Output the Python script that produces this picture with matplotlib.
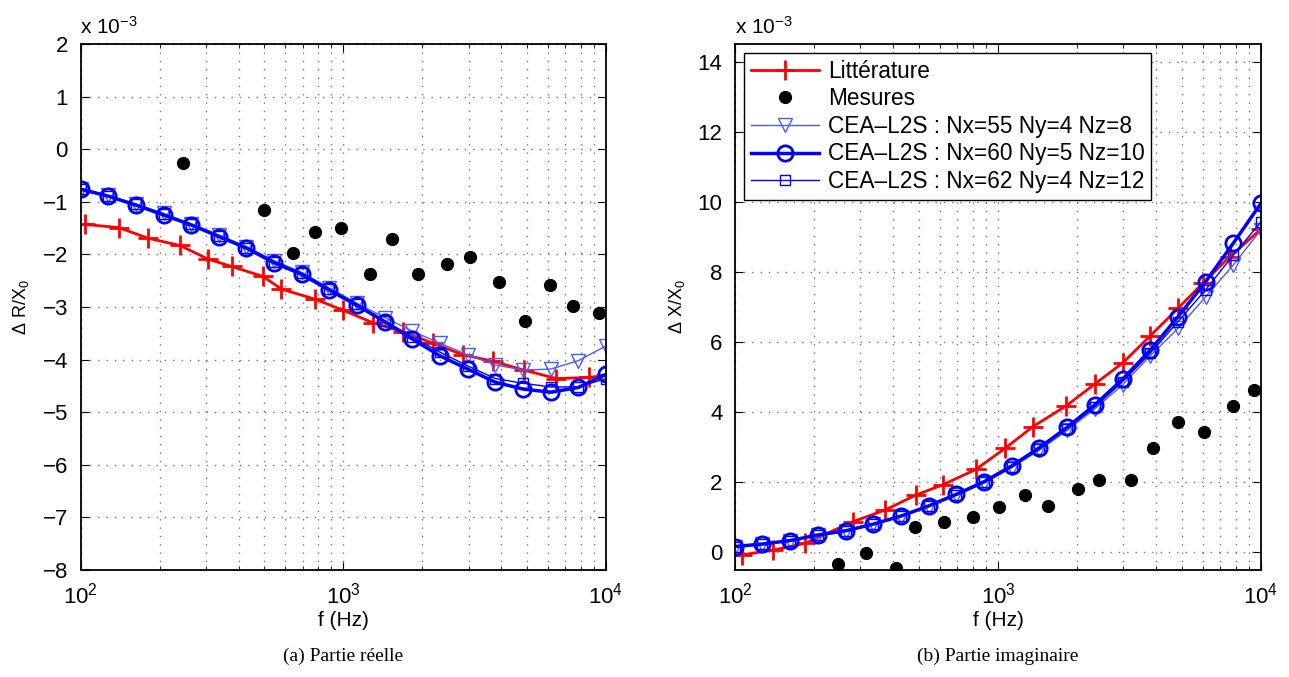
import matplotlib.pyplot as plt
import numpy as np

plt.rcParams['font.family'] = ['Liberation Sans', 'DejaVu Sans']
plt.rcParams['mathtext.fontset'] = 'custom'
plt.rcParams['mathtext.rm'] = 'Liberation Sans'
plt.rcParams['mathtext.it'] = 'Liberation Sans:italic'

# frequencies of the simulations (20 points, 100 Hz .. 10 kHz)
f_sim = [100, 127, 162, 207, 264, 336, 428, 546, 695, 886,
         1129, 1438, 1833, 2336, 2976, 3793, 4833, 6158, 7848, 10000]

# ---- (a) real part, values x 1e-3
f_lit_r = [104, 140, 180, 239, 306, 376, 496, 582, 779, 998,
           1297, 1687, 2195, 2856, 3714, 4870, 6477, 8601, 10000]
lit_r = [-1.43, -1.49, -1.69, -1.83, -2.09, -2.23, -2.42, -2.66, -2.85, -3.06,
         -3.30, -3.47, -3.69, -3.91, -4.03, -4.20, -4.36, -4.34, -4.30]
f_mes_r = [246, 499, 641, 784, 984, 1268, 1538, 1924, 2482, 3028,
           3908, 4898, 6138, 7474, 9370]
mes_r = [-0.27, -1.16, -1.98, -1.57, -1.49, -2.38, -1.71, -2.38, -2.18, -2.04,
         -2.52, -3.26, -2.58, -2.99, -3.12]
n55_r = [-0.75, -0.88, -1.04, -1.22, -1.42, -1.63, -1.85, -2.12, -2.34, -2.64,
         -2.93, -3.20, -3.46, -3.69, -3.91, -4.10, -4.20, -4.18, -4.02, -3.74]
n60_r = [-0.76, -0.89, -1.06, -1.25, -1.44, -1.66, -1.88, -2.16, -2.38, -2.68,
         -2.97, -3.28, -3.61, -3.93, -4.18, -4.43, -4.56, -4.62, -4.53, -4.28]
n62_r = [-0.76, -0.89, -1.05, -1.24, -1.43, -1.65, -1.87, -2.14, -2.36, -2.66,
         -2.95, -3.26, -3.57, -3.86, -4.12, -4.36, -4.45, -4.52, -4.52, -4.36]

# ---- (b) imaginary part, values x 1e-3
f_lit_i = [106, 140, 185, 281, 372, 488, 617, 824, 1064, 1358,
           1816, 2339, 2985, 3784, 4831, 6012, 7621, 10000]
lit_i = [-0.07, 0.07, 0.26, 0.88, 1.21, 1.64, 1.93, 2.37, 2.97, 3.59,
         4.18, 4.81, 5.41, 6.17, 6.96, 7.68, 8.44, 9.22]
f_mes_i = [246, 315, 409, 483, 623, 804, 1009, 1267, 1549, 2015,
           2421, 3203, 3884, 4831, 6067, 7826, 9398]
mes_i = [-0.33, -0.02, -0.45, 0.72, 0.86, 1.02, 1.31, 1.65, 1.33, 1.81,
         2.07, 2.07, 2.99, 3.73, 3.43, 4.19, 4.63]
n55_i = [0.17, 0.24, 0.34, 0.49, 0.61, 0.80, 1.02, 1.31, 1.63, 1.98,
         2.42, 2.92, 3.48, 4.10, 4.78, 5.61, 6.39, 7.29, 8.20, 9.20]
n60_i = [0.17, 0.24, 0.34, 0.50, 0.62, 0.81, 1.04, 1.33, 1.66, 2.02,
         2.47, 2.99, 3.57, 4.21, 4.94, 5.77, 6.72, 7.72, 8.82, 9.96]
n62_i = [0.17, 0.24, 0.34, 0.50, 0.62, 0.81, 1.03, 1.32, 1.65, 2.00,
         2.44, 2.96, 3.53, 4.15, 4.87, 5.68, 6.58, 7.49, 8.48, 9.43]

labels = ['Littérature', 'Mesures',
          'CEA\u2013L2S : Nx=55 Ny=4 Nz=8',
          'CEA\u2013L2S : Nx=60 Ny=5 Nz=10',
          'CEA\u2013L2S : Nx=62 Ny=4 Nz=12']

fig = plt.figure(figsize=(12.89, 6.77), dpi=100)
ax1 = fig.add_axes([80.5 / 1289, 107 / 677, 525.5 / 1289, 526 / 677])
ax2 = fig.add_axes([735 / 1289, 107 / 677, 526 / 1289, 526 / 677])

grid_style = dict(ls=(0, (1, 5)), color='#777777', lw=1.0)


def draw(ax, f_lit, lit, f_mes, mes, n55, n60, n62):
    ax.plot(f_lit, lit, '-', color='red', lw=2, marker='+', ms=15, mew=2, label=labels[0])
    ax.plot(f_mes, mes, 'o', color='black', ms=8.5, label=labels[1])
    ax.plot(f_sim, n55, '-', color='#4a5cff', lw=1, marker='v', ms=10, mfc='none', mew=1, label=labels[2])
    ax.plot(f_sim, n60, '-', color='blue', lw=2.5, marker='o', ms=11, mfc='none', mew=2, label=labels[3])
    ax.plot(f_sim, n62, '-', color='blue', lw=1, marker='s', ms=7.5, mfc='none', mew=1, label=labels[4])
    ax.set_xscale('log')
    ax.set_xlim(100, 10000)
    ax.grid(True, which='major', **grid_style)
    ax.grid(True, which='minor', axis='x', **grid_style)
    ax.tick_params(which='both', direction='in', top=True, right=True, labelsize=16)
    ax.tick_params(which='major', length=6, pad=9)
    ax.tick_params(which='minor', length=3)
    ax.set_xlabel('f (Hz)', fontsize=15, labelpad=2)
    for s in ax.spines.values():
        s.set_linewidth(1.3)
    ax.text(0.0, 1.012, r'x 10$^{-3}$', transform=ax.transAxes, fontsize=15, ha='left', va='bottom')


draw(ax1, f_lit_r, lit_r, f_mes_r, mes_r, n55_r, n60_r, n62_r)
ax1.set_ylim(-8, 2)
ax1.set_yticks(np.arange(-8, 3, 1))
ax1.set_ylabel(r'$\Delta$ R/X$_0$', fontsize=13, labelpad=8)

draw(ax2, f_lit_i, lit_i, f_mes_i, mes_i, n55_i, n60_i, n62_i)
ax2.set_ylim(-0.5, 14.5)
ax2.set_yticks(np.arange(0, 15, 2))
ax2.set_ylabel(r'$\Delta$ X/X$_0$', fontsize=13, labelpad=8)
leg = ax2.legend(loc='upper left', fontsize=16.3, fancybox=False, edgecolor='black',
                 framealpha=1, borderaxespad=0.4, handlelength=3.0, labelspacing=0.2,
                 borderpad=0.3, handletextpad=0.4, numpoints=1)
leg.get_frame().set_linewidth(1.0)

fig.text(343 / 1289, 1 - 656 / 677, '(a) Partie réelle', fontsize=14,
         family=['Liberation Serif', 'DejaVu Serif'], ha='center', va='center')
fig.text(998 / 1289, 1 - 656 / 677, '(b) Partie imaginaire', fontsize=14,
         family=['Liberation Serif', 'DejaVu Serif'], ha='center', va='center')

fig.savefig('out.png', dpi=100)
